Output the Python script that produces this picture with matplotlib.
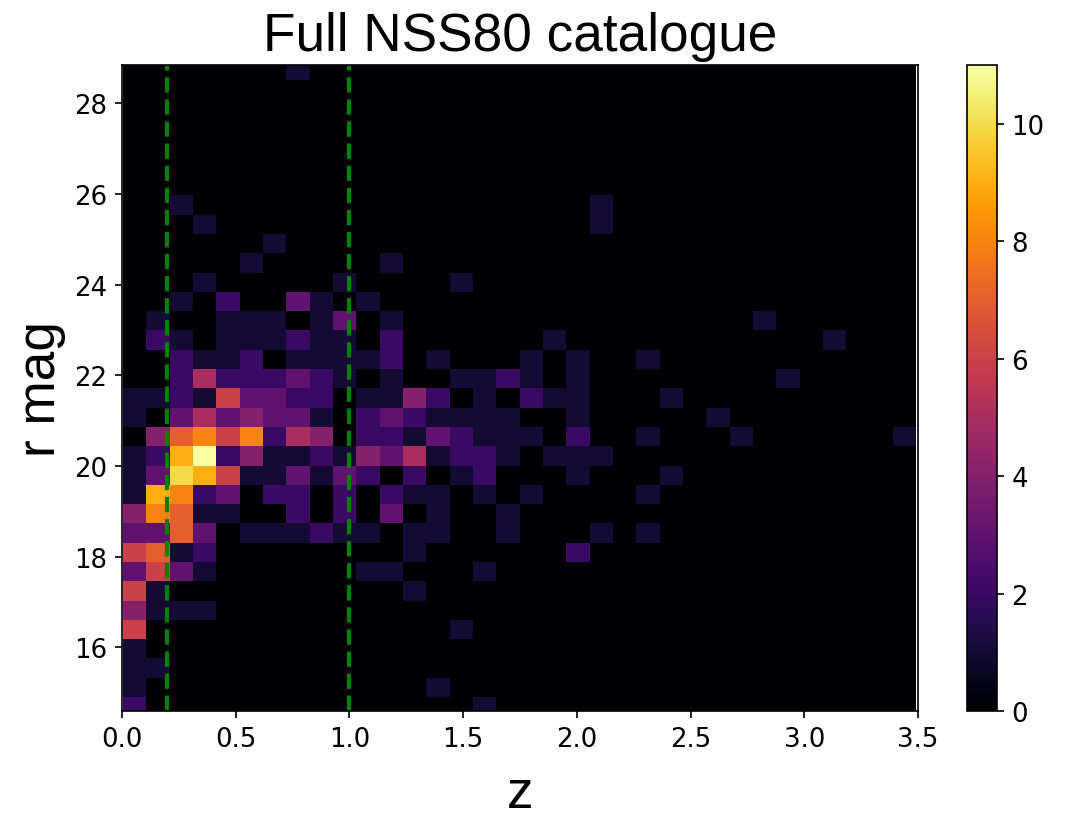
import numpy as np
import matplotlib.pyplot as plt

# bin edges of the 2d histogram (34 x 34 bins)
z_edges = np.linspace(0.005, 3.493, 35)
r_edges = np.linspace(14.477, 28.947, 35)

# counts per bin, first row = faintest r bin, columns go with z
counts = [
    [2,0,0,0,0,0,0,0,0,0, 0,0,0,0,0,1,0,0,0,0, 0,0,0,0,0,0,0,0,0,0, 0,0,0,0],
    [1,0,0,0,0,0,0,0,0,0, 0,0,0,1,0,0,0,0,0,0, 0,0,0,0,0,0,0,0,0,0, 0,0,0,0],
    [1,1,0,0,0,0,0,0,0,0, 0,0,0,0,0,0,0,0,0,0, 0,0,0,0,0,0,0,0,0,0, 0,0,0,0],
    [1,0,0,0,0,0,0,0,0,0, 0,0,0,0,0,0,0,0,0,0, 0,0,0,0,0,0,0,0,0,0, 0,0,0,0],
    [6,0,0,0,0,0,0,0,0,0, 0,0,0,0,1,0,0,0,0,0, 0,0,0,0,0,0,0,0,0,0, 0,0,0,0],
    [4,1,1,1,0,0,0,0,0,0, 0,0,0,0,0,0,0,0,0,0, 0,0,0,0,0,0,0,0,0,0, 0,0,0,0],
    [6,1,0,0,0,0,0,0,0,0, 0,0,1,0,0,0,0,0,0,0, 0,0,0,0,0,0,0,0,0,0, 0,0,0,0],
    [3,6,3,1,0,0,0,0,0,0, 1,1,0,0,0,1,0,0,0,0, 0,0,0,0,0,0,0,0,0,0, 0,0,0,0],
    [6,7,1,2,0,0,0,0,0,0, 0,0,1,0,0,0,0,0,0,2, 0,0,0,0,0,0,0,0,0,0, 0,0,0,0],
    [3,3,7,3,0,1,1,1,2,1, 1,0,1,1,0,0,1,0,0,0, 1,0,1,0,0,0,0,0,0,0, 0,0,0,0],
    [4,8,7,1,1,0,0,2,0,2, 0,3,0,1,0,0,1,0,0,0, 0,0,0,0,0,0,0,0,0,0, 0,0,0,0],
    [1,9,8,2,3,0,2,2,0,2, 0,2,1,1,0,1,0,1,0,0, 0,0,1,0,0,0,0,0,0,0, 0,0,0,0],
    [1,3,10,9,6,1,1,3,1,3, 2,0,2,0,1,2,0,0,0,1, 0,0,0,1,0,0,0,0,0,0, 0,0,0,0],
    [1,2,9,11,2,4,1,1,2,1, 4,3,5,1,2,2,1,0,1,1, 1,0,0,0,0,0,0,0,0,0, 0,0,0,0],
    [0,4,7,8,6,8,2,5,4,0, 2,2,1,3,2,1,1,1,0,2, 0,0,1,0,0,0,1,0,0,0, 0,0,0,1],
    [1,0,3,5,3,4,3,3,1,0, 2,3,2,1,1,1,1,0,0,1, 0,0,0,0,0,1,0,0,0,0, 0,0,0,0],
    [1,1,2,1,6,3,3,2,2,0, 1,1,4,2,0,1,0,2,1,1, 0,0,0,1,0,0,0,0,0,0, 0,0,0,0],
    [0,0,2,5,2,2,2,3,2,1, 0,1,0,0,1,1,2,1,0,1, 0,0,0,0,0,0,0,0,1,0, 0,0,0,0],
    [0,0,2,1,1,2,0,1,1,1, 1,2,0,1,0,0,0,1,0,1, 0,0,1,0,0,0,0,0,0,0, 0,0,0,0],
    [0,2,1,0,1,1,1,2,1,1, 0,2,0,0,0,0,0,0,1,0, 0,0,0,0,0,0,0,0,0,0, 1,0,0,0],
    [0,1,0,0,1,1,1,0,1,3, 0,1,0,0,0,0,0,0,0,0, 0,0,0,0,0,0,0,1,0,0, 0,0,0,0],
    [0,0,1,0,2,0,0,3,1,0, 1,0,0,0,0,0,0,0,0,0, 0,0,0,0,0,0,0,0,0,0, 0,0,0,0],
    [0,0,0,1,0,0,0,0,0,1, 0,0,0,0,1,0,0,0,0,0, 0,0,0,0,0,0,0,0,0,0, 0,0,0,0],
    [0,0,0,0,0,1,0,0,0,0, 0,1,0,0,0,0,0,0,0,0, 0,0,0,0,0,0,0,0,0,0, 0,0,0,0],
    [0,0,0,0,0,0,1,0,0,0, 0,0,0,0,0,0,0,0,0,0, 0,0,0,0,0,0,0,0,0,0, 0,0,0,0],
    [0,0,0,1,0,0,0,0,0,0, 0,0,0,0,0,0,0,0,0,0, 1,0,0,0,0,0,0,0,0,0, 0,0,0,0],
    [0,0,1,0,0,0,0,0,0,0, 0,0,0,0,0,0,0,0,0,0, 1,0,0,0,0,0,0,0,0,0, 0,0,0,0],
    [0,0,0,0,0,0,0,0,0,0, 0,0,0,0,0,0,0,0,0,0, 0,0,0,0,0,0,0,0,0,0, 0,0,0,0],
    [0,0,0,0,0,0,0,0,0,0, 0,0,0,0,0,0,0,0,0,0, 0,0,0,0,0,0,0,0,0,0, 0,0,0,0],
    [0,0,0,0,0,0,0,0,0,0, 0,0,0,0,0,0,0,0,0,0, 0,0,0,0,0,0,0,0,0,0, 0,0,0,0],
    [0,0,0,0,0,0,0,0,0,0, 0,0,0,0,0,0,0,0,0,0, 0,0,0,0,0,0,0,0,0,0, 0,0,0,0],
    [0,0,0,0,0,0,0,0,0,0, 0,0,0,0,0,0,0,0,0,0, 0,0,0,0,0,0,0,0,0,0, 0,0,0,0],
    [0,0,0,0,0,0,0,0,0,0, 0,0,0,0,0,0,0,0,0,0, 0,0,0,0,0,0,0,0,0,0, 0,0,0,0],
    [0,0,0,0,0,0,0,1,0,0, 0,0,0,0,0,0,0,0,0,0, 0,0,0,0,0,0,0,0,0,0, 0,0,0,0],
]

z_cuts = [0.2, 1.0]

fig = plt.figure(figsize=(7.12, 5.453), dpi=150)
ax = fig.add_axes([122/1068, 106/818, 796/1068, 646/818])

mesh = ax.pcolormesh(z_edges, r_edges, np.array(counts), cmap='inferno',
                     vmin=0, vmax=11)
for zc in z_cuts:
    ax.axvline(zc, color='green', ls='--', lw=2)

ax.set_xlim(0, 3.5)
ax.set_ylim(14.594, 28.845)
ax.set_xticks(np.arange(0, 3.51, 0.5))
ax.set_yticks(np.arange(16, 29, 2))
ax.tick_params(labelsize=12.5)

ax.set_title('Full NSS80 catalogue', fontsize=25.5, family='Liberation Sans', pad=7)
ax.set_xlabel('z', fontsize=25.5, family='Liberation Sans', labelpad=8)
ax.set_ylabel('r mag', fontsize=25.5, family='Liberation Sans')

cax = fig.add_axes([967/1068, 106/818, 30/1068, 646/818])
cb = fig.colorbar(mesh, cax=cax)
cb.set_ticks([0, 2, 4, 6, 8, 10])
cb.ax.tick_params(labelsize=12.5)

fig.savefig('out.png', dpi=150)
